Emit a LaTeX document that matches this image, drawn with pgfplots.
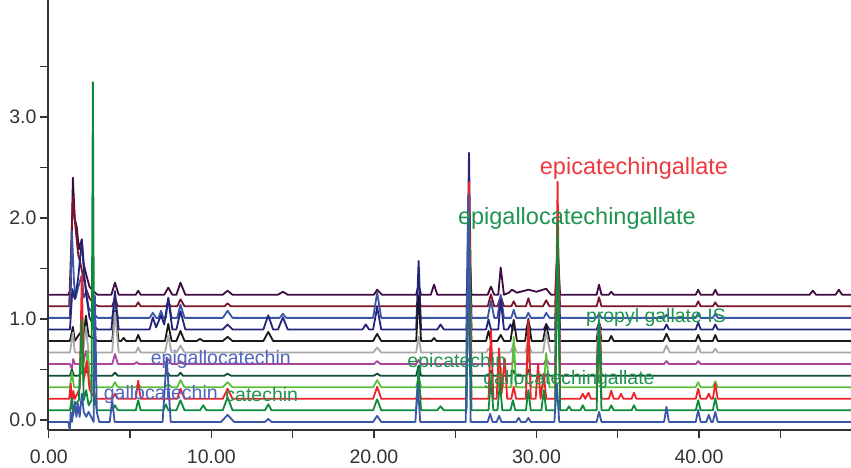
\documentclass[border=0pt]{standalone}
\usepackage{pgfplots}
\pgfplotsset{compat=1.18}
\usepackage{pgfplotstable}
\usepackage{fontspec}
\setmainfont{Liberation Sans}

\definecolor{cpurple}{HTML}{3E0C40}
\definecolor{cmaroon}{HTML}{781428}
\definecolor{cblue}{HTML}{3A56A8}
\definecolor{cnavy}{HTML}{24247A}
\definecolor{cblack}{HTML}{1A1A1A}
\definecolor{cgray}{HTML}{A8A8A8}
\definecolor{cmagenta}{HTML}{B0449C}
\definecolor{cteal}{HTML}{0E4A3E}
\definecolor{clgreen}{HTML}{5CBF3C}
\definecolor{cred}{HTML}{EE2228}
\definecolor{cgreen}{HTML}{0F8A3C}
\definecolor{axisgray}{HTML}{333333}
\definecolor{labred}{HTML}{EE3840}
\definecolor{labgreen}{HTML}{1E9450}
\definecolor{labblue}{HTML}{5064C0}

% heights above each trace's own baseline, time in min
\pgfplotstableread[row sep=\\]{t h\\
0 0\\ 1.2 0\\ 1.35 0.05\\ 1.48 1.16\\ 1.6 0.75\\ 1.72 0.67\\ 1.85 0.45\\ 2.03 0.55\\ 2.15 0.3\\ 2.3 0.2\\ 2.5 0.08\\ 2.7 0.04\\ 3.0 0\\
3.85 0\\ 4.07 0.12\\ 4.3 0\\ 5.35 0\\ 5.5 0.04\\ 5.65 0\\ 7.1 0\\ 7.35 0.07\\ 7.6 0\\ 7.85 0\\ 8.1 0.12\\ 8.4 0\\
10.7 0\\ 11.0 0.04\\ 11.3 0\\ 14.1 0\\ 14.4 0.03\\ 14.7 0\\ 20.0 0\\ 20.2 0.05\\ 20.5 0\\ 22.6 0\\ 22.75 0.1\\ 22.9 0\\
23.5 0\\ 23.7 0.1\\ 23.9 0\\ 25.7 0\\ 25.85 0.4\\ 26.0 0\\ 27.0 0\\ 27.2 0.08\\ 27.4 0\\ 27.65 0\\ 27.8 0.27\\ 28.0 0\\
28.3 0.02\\ 28.5 0.05\\ 28.8 0.02\\ 29.5 0.05\\ 30.0 0.03\\ 30.6 0.06\\ 30.9 0\\ 31.15 0\\ 31.3 0.5\\ 31.45 0\\
33.7 0\\ 33.85 0.1\\ 34.0 0\\ 34.45 0\\ 34.6 0.03\\ 34.75 0\\ 39.8 0\\ 39.95 0.05\\ 40.1 0\\ 40.85 0\\ 41.0 0.05\\ 41.15 0\\
46.8 0\\ 47.0 0.04\\ 47.2 0\\ 48.4 0\\ 48.6 0.05\\ 48.8 0\\ 49.4 0\\
}\tpurple

\pgfplotstableread[row sep=\\]{t h\\
0 0\\ 1.25 0\\ 1.48 1.08\\ 1.6 0.85\\ 1.8 0.52\\ 1.95 0.42\\ 2.1 0.3\\ 2.3 0.17\\ 2.5 0.08\\ 2.8 0.02\\ 3.1 0\\
3.9 0\\ 4.07 0.08\\ 4.25 0\\ 5.35 0\\ 5.5 0.04\\ 5.65 0\\ 7.2 0\\ 7.35 0.04\\ 7.5 0\\ 7.9 0\\ 8.1 0.07\\ 8.35 0\\
10.8 0\\ 11.0 0.03\\ 11.2 0\\ 22.6 0\\ 22.75 0.06\\ 22.9 0\\ 25.7 0\\ 25.85 0.5\\ 26.0 0\\ 27.0 0\\ 27.2 0.12\\ 27.4 0\\
27.6 0\\ 27.8 0.1\\ 28.0 0\\ 28.45 0\\ 28.6 0.05\\ 28.75 0\\ 29.35 0\\ 29.5 0.08\\ 29.65 0\\ 30.4 0\\ 30.6 0.06\\ 30.8 0\\
31.15 0\\ 31.3 0.6\\ 31.45 0\\ 33.7 0\\ 33.85 0.09\\ 34.0 0\\ 39.8 0\\ 39.95 0.05\\ 40.1 0\\ 40.85 0\\ 41.0 0.04\\ 41.15 0\\ 49.4 0\\
}\tmaroon

\pgfplotstableread[row sep=\\]{t h\\
0 0\\ 1.3 0\\ 1.42 0.86\\ 1.55 0.35\\ 1.66 0.2\\ 1.8 0.3\\ 2.03 0.42\\ 2.15 0.2\\ 2.3 0.25\\ 2.45 0.1\\ 2.7 0.05\\ 3.0 0\\
3.9 0\\ 4.07 0.15\\ 4.25 0\\ 6.2 0\\ 6.4 0.05\\ 6.6 0\\ 6.75 0\\ 6.9 0.07\\ 7.05 0\\ 7.2 0\\ 7.35 0.2\\ 7.55 0\\
7.9 0\\ 8.1 0.13\\ 8.35 0\\ 10.7 0\\ 11.0 0.07\\ 11.3 0\\ 14.2 0\\ 14.4 0.04\\ 14.6 0\\ 19.95 0\\ 20.2 0.25\\ 20.45 0\\
22.6 0\\ 22.75 0.1\\ 22.9 0\\ 25.7 0\\ 25.85 1.0\\ 26.0 0\\ 27.0 0\\ 27.2 0.17\\ 27.4 0\\ 27.6 0\\ 27.8 0.23\\ 28.0 0\\
28.45 0\\ 28.6 0.08\\ 28.75 0\\ 29.35 0\\ 29.5 0.05\\ 29.65 0\\ 30.45 0\\ 30.6 0.05\\ 30.8 0\\ 31.15 0\\ 31.3 0.5\\ 31.45 0\\
33.7 0\\ 33.85 0.04\\ 34.0 0\\ 37.85 0\\ 38.0 0.03\\ 38.15 0\\ 39.8 0\\ 39.95 0.05\\ 40.1 0\\ 40.85 0\\ 41.0 0.04\\ 41.15 0\\ 49.4 0\\
}\tblueb

\pgfplotstableread[row sep=\\]{t h\\
0 0\\ 1.3 0\\ 1.45 0.4\\ 1.6 0.3\\ 1.8 0.5\\ 2.03 0.88\\ 2.15 0.6\\ 2.3 0.35\\ 2.5 0.12\\ 2.75 0.04\\ 3.0 0\\
3.85 0\\ 4.07 0.38\\ 4.3 0\\ 6.2 0\\ 6.4 0.12\\ 6.6 0.02\\ 6.9 0.14\\ 7.1 0.05\\ 7.35 0.31\\ 7.6 0\\ 7.85 0\\ 8.1 0.18\\ 8.4 0\\
10.7 0\\ 11.0 0.05\\ 11.3 0\\ 13.2 0\\ 13.5 0.14\\ 13.8 0\\ 14.1 0\\ 14.4 0.12\\ 14.7 0\\ 19.3 0\\ 19.5 0.05\\ 19.7 0\\
19.95 0\\ 20.2 0.22\\ 20.45 0\\ 22.6 0\\ 22.75 0.68\\ 22.9 0\\ 23.9 0\\ 24.1 0.05\\ 24.3 0\\ 25.7 0\\ 25.85 1.75\\ 26.0 0\\
26.9 0\\ 27.05 0.1\\ 27.2 0\\ 27.65 0\\ 27.8 0.3\\ 28.0 0\\ 28.25 0\\ 28.4 0.05\\ 28.55 0\\ 29.35 0\\ 29.5 0.06\\ 29.65 0\\
30.45 0\\ 30.6 0.05\\ 30.8 0\\ 31.15 0\\ 31.3 0.8\\ 31.45 0\\ 33.7 0\\ 33.85 0.06\\ 34.0 0\\ 37.85 0\\ 38.0 0.05\\ 38.15 0\\
39.8 0\\ 39.95 0.07\\ 40.1 0\\ 40.85 0\\ 41.0 0.05\\ 41.15 0\\ 49.4 0\\
}\tnavy

\pgfplotstableread[row sep=\\]{t h\\
0 0\\ 1.3 0\\ 1.48 0.14\\ 1.6 0\\ 1.8 0.05\\ 2.03 0.1\\ 2.15 0.05\\ 2.28 0.25\\ 2.45 0.05\\ 2.7 0.03\\ 3.0 0\\
3.9 0\\ 4.07 0.3\\ 4.3 0\\ 4.45 0\\ 4.6 0.03\\ 4.75 0\\ 5.35 0\\ 5.5 0.06\\ 5.65 0\\ 7.15 0\\ 7.35 0.17\\ 7.55 0\\
7.85 0\\ 8.1 0.1\\ 8.35 0\\ 9.1 0\\ 9.3 0.02\\ 9.5 0\\ 10.7 0\\ 11.0 0.04\\ 11.3 0\\ 13.2 0\\ 13.5 0.09\\ 13.8 0\\
19.95 0\\ 20.2 0.07\\ 20.45 0\\ 22.6 0\\ 22.75 0.45\\ 22.9 0\\ 23.55 0\\ 23.7 0.03\\ 23.85 0\\ 25.7 0\\ 25.85 1.2\\ 26.0 0\\
26.9 0\\ 27.05 0.1\\ 27.2 0\\ 27.6 0\\ 27.8 0.06\\ 28.0 0\\ 28.4 0\\ 28.6 0.21\\ 28.8 0\\ 29.3 0\\ 29.5 0.22\\ 29.7 0\\
30.4 0\\ 30.6 0.17\\ 30.8 0\\ 31.15 0\\ 31.3 0.7\\ 31.45 0\\ 33.7 0\\ 33.85 0.2\\ 34.0 0\\ 34.45 0\\ 34.6 0.05\\ 34.75 0\\
37.8 0\\ 38.0 0.07\\ 38.2 0\\ 39.8 0\\ 39.95 0.06\\ 40.1 0\\ 40.85 0\\ 41.0 0.06\\ 41.15 0\\ 49.4 0\\
}\tblack

\pgfplotstableread[row sep=\\]{t h\\
0 0\\ 1.3 0\\ 1.48 0.2\\ 1.6 0\\ 2.1 0\\ 2.28 0.25\\ 2.45 0\\ 3.9 0\\ 4.07 0.4\\ 4.3 0\\ 5.35 0\\ 5.5 0.05\\ 5.65 0\\
7.15 0\\ 7.35 0.17\\ 7.55 0\\ 7.85 0\\ 8.1 0.07\\ 8.35 0\\ 19.95 0\\ 20.2 0.05\\ 20.45 0\\ 22.6 0\\ 22.75 0.16\\ 22.9 0\\
25.7 0\\ 25.85 1.1\\ 26.0 0\\ 26.9 0\\ 27.05 0.04\\ 27.2 0\\ 28.4 0\\ 28.6 0.08\\ 28.8 0\\ 29.3 0\\ 29.5 0.1\\ 29.7 0\\
30.4 0\\ 30.6 0.2\\ 30.85 0\\ 31.15 0\\ 31.3 0.8\\ 31.45 0\\ 33.7 0\\ 33.85 0.3\\ 34.0 0\\ 37.8 0\\ 38.0 0.07\\ 38.2 0\\
39.8 0\\ 39.95 0.07\\ 40.1 0\\ 40.85 0\\ 41.0 0.04\\ 41.15 0\\ 49.4 0\\
}\tgray

\pgfplotstableread[row sep=\\]{t h\\
0 0\\ 1.3 0\\ 1.42 -0.05\\ 1.5 0.05\\ 1.6 0\\ 2.1 0\\ 2.28 0.13\\ 2.45 0\\ 3.9 0\\ 4.07 0.1\\ 4.25 0\\ 5.25 0\\ 5.4 0.02\\ 5.55 0\\
7.15 0\\ 7.35 0.05\\ 7.55 0\\ 7.9 0\\ 8.1 0.03\\ 8.3 0\\ 20.0 0\\ 20.2 0.03\\ 20.4 0\\ 22.6 0\\ 22.75 0.04\\ 22.9 0\\
25.7 0\\ 25.85 1.0\\ 26.0 0\\ 28.45 0\\ 28.6 0.03\\ 28.75 0\\ 29.35 0\\ 29.5 0.04\\ 29.65 0\\ 30.45 0\\ 30.6 0.05\\ 30.8 0\\
31.15 0\\ 31.3 0.9\\ 31.45 0\\ 33.7 0\\ 33.85 0.4\\ 34.0 0\\ 37.85 0\\ 38.0 0.03\\ 38.15 0\\ 39.8 0\\ 39.95 0.03\\ 40.1 0\\ 49.4 0\\
}\tmagenta

\pgfplotstableread[row sep=\\]{t h\\
0 0\\ 1.3 0\\ 1.42 0.06\\ 1.55 0\\ 1.85 0\\ 2.0 0.04\\ 2.15 0\\ 2.3 0.05\\ 2.5 0\\ 3.9 0\\ 4.07 0.03\\ 4.25 0\\
7.15 0\\ 7.3 0.03\\ 7.45 0\\ 7.95 0\\ 8.1 0.03\\ 8.25 0\\ 10.8 0\\ 11.0 0.02\\ 11.2 0\\ 20.0 0\\ 20.2 0.02\\ 20.4 0\\
22.6 0\\ 22.75 0.1\\ 22.9 0\\ 25.7 0\\ 25.85 0.95\\ 26.0 0\\ 27.05 0\\ 27.2 0.05\\ 27.35 0\\ 28.45 0\\ 28.6 0.05\\ 28.75 0\\
29.35 0\\ 29.5 0.06\\ 29.65 0\\ 31.15 0\\ 31.3 0.95\\ 31.45 0\\ 33.7 0\\ 33.85 0.5\\ 34.0 0\\ 49.4 0\\
}\tteal

\pgfplotstableread[row sep=\\]{t h\\
0 0\\ 1.3 0\\ 1.42 0.15\\ 1.55 0\\ 1.9 0\\ 2.0 0.3\\ 2.15 0.05\\ 2.4 0.36\\ 2.55 0\\ 3.0 0\\ 3.9 0\\ 4.07 0.05\\ 4.25 0\\
5.35 0\\ 5.5 0.03\\ 5.65 0\\ 7.15 0\\ 7.35 0.03\\ 7.55 0\\ 7.9 0\\ 8.1 0.07\\ 8.35 0\\ 10.7 0\\ 11.0 0.05\\ 11.3 0\\
19.95 0\\ 20.2 0.07\\ 20.45 0\\ 22.6 0\\ 22.75 0.1\\ 22.9 0\\ 25.7 0\\ 25.85 1.6\\ 26.0 0\\ 27.05 0\\ 27.2 0.1\\ 27.35 0\\
27.65 0\\ 27.8 0.2\\ 27.95 0\\ 28.45 0\\ 28.6 0.5\\ 28.75 0\\ 29.35 0\\ 29.5 0.6\\ 29.65 0\\ 30.45 0\\ 30.6 0.34\\ 30.8 0\\
31.15 0\\ 31.3 1.3\\ 31.45 0\\ 33.7 0\\ 33.85 0.62\\ 34.0 0\\ 39.8 0\\ 39.95 0.05\\ 40.1 0\\ 40.85 0\\ 41.0 0.06\\ 41.15 0\\ 49.4 0\\
}\tlgreen

\pgfplotstableread[row sep=\\]{t h\\
0 0\\ 1.25 0\\ 1.35 0.15\\ 1.42 -0.1\\ 1.5 0.08\\ 1.6 0\\ 1.9 0.1\\ 2.03 1.22\\ 2.15 0.2\\ 2.35 0.37\\ 2.5 0.1\\ 2.65 0.05\\ 2.9 0\\
3.9 0\\ 4.07 0.05\\ 4.25 0\\ 5.35 0\\ 5.5 0.18\\ 5.65 0\\ 7.9 0\\ 8.1 0.1\\ 8.35 0\\ 10.7 0\\ 11.0 0.1\\ 11.3 0\\
19.95 0\\ 20.2 0.12\\ 20.45 0\\ 22.6 0\\ 22.75 0.12\\ 22.9 0\\ 25.7 0\\ 25.85 2.15\\ 26.0 0\\ 27.05 0\\ 27.2 0.68\\ 27.35 0\\
27.55 0\\ 27.7 0.5\\ 27.85 0.05\\ 28.05 0.4\\ 28.2 0\\ 28.45 0\\ 28.6 0.12\\ 28.75 0\\ 29.35 0\\ 29.5 0.78\\ 29.65 0\\
29.95 0\\ 30.1 0.35\\ 30.25 0\\ 30.45 0.25\\ 30.6 0\\ 31.15 0\\ 31.3 2.15\\ 31.45 0\\ 32.7 0\\ 32.85 0.05\\ 33.0 0\\ 33.2 0.06\\ 33.35 0\\
33.7 0\\ 33.85 0.75\\ 34.0 0\\ 34.45 0\\ 34.6 0.08\\ 34.75 0\\ 35.05 0\\ 35.2 0.05\\ 35.35 0\\ 35.85 0\\ 36.0 0.06\\ 36.15 0\\
39.8 0\\ 39.95 0.1\\ 40.1 0\\ 40.45 0\\ 40.6 0.05\\ 40.75 0\\ 40.85 0\\ 41.0 0.15\\ 41.15 0\\ 49.4 0\\
}\tred

\pgfplotstableread[row sep=\\]{t h\\
0 0\\ 1.3 0\\ 1.42 0.12\\ 1.5 -0.05\\ 1.6 0.05\\ 1.85 0.1\\ 2.03 0.9\\ 2.15 0.1\\ 2.3 0.2\\ 2.45 0.05\\ 2.63 0.1\\ 2.71 3.25\\ 2.79 0.2\\ 2.95 0\\
3.9 0\\ 4.07 0.05\\ 4.25 0\\ 5.35 0\\ 5.5 0.1\\ 5.65 0\\ 7.05 0\\ 7.2 0.06\\ 7.35 0\\ 7.85 0\\ 8.1 0.1\\ 8.35 0\\
9.3 0\\ 9.5 0.05\\ 9.7 0\\ 10.7 0\\ 11.0 0.13\\ 11.3 0\\ 13.3 0\\ 13.5 0.06\\ 13.7 0\\ 19.95 0\\ 20.2 0.11\\ 20.45 0\\
22.6 0\\ 22.75 0.42\\ 22.9 0\\ 23.9 0\\ 24.1 0.04\\ 24.3 0\\ 25.7 0\\ 25.85 1.9\\ 26.0 0\\ 27.05 0\\ 27.2 0.3\\ 27.35 0\\
27.6 0\\ 27.75 0.27\\ 27.9 0\\ 28.4 0\\ 28.55 0.1\\ 28.7 0\\ 29.35 0\\ 29.5 0.2\\ 29.65 0\\ 30.3 0\\ 30.45 0.2\\ 30.6 0\\
31.15 0\\ 31.3 1.88\\ 31.45 0\\ 31.85 0\\ 32.0 0.04\\ 32.15 0\\ 32.7 0\\ 32.85 0.05\\ 33.0 0\\ 33.7 0\\ 33.85 0.88\\ 34.0 0\\
34.45 0\\ 34.6 0.05\\ 34.75 0\\ 35.85 0\\ 36.0 0.05\\ 36.15 0\\ 39.8 0\\ 39.95 0.1\\ 40.1 0\\ 40.85 0\\ 41.0 0.12\\ 41.15 0\\ 49.4 0\\
}\tgreen

\pgfplotstableread[row sep=\\]{t h\\
0 0\\ 1.2 0\\ 1.29 -0.08\\ 1.35 0.1\\ 1.42 0\\ 1.6 0.2\\ 1.7 0.05\\ 1.79 0.18\\ 1.9 0.05\\ 2.03 0.28\\ 2.15 0.1\\ 2.3 0.05\\
2.45 0.1\\ 2.6 0.05\\ 2.76 0\\ 2.84 1.25\\ 2.95 0.1\\ 3.1 0\\ 3.75 0\\ 3.9 0.22\\ 4.05 0\\ 7.0 0\\ 7.25 0.64\\ 7.5 0\\
10.6 0\\ 11.0 0.07\\ 11.4 0\\ 13.3 0\\ 13.5 0.03\\ 13.7 0\\ 19.95 0\\ 20.2 0.06\\ 20.45 0\\ 22.55 0\\ 22.7 0.37\\ 22.85 0\\
25.65 0\\ 25.8 2.25\\ 25.95 0\\ 27.0 0\\ 27.15 0.08\\ 27.3 0\\ 27.55 0\\ 27.7 0.06\\ 27.85 0\\ 28.75 0\\ 28.9 0.04\\ 29.05 0\\
29.35 0\\ 29.5 0.04\\ 29.65 0\\ 31.1 0\\ 31.25 0.38\\ 31.4 0\\ 33.7 0\\ 33.85 0.1\\ 34.0 0\\ 37.85 0\\ 38.0 0.15\\ 38.15 0\\
39.8 0\\ 39.95 0.12\\ 40.1 0\\ 40.45 0\\ 40.6 0.07\\ 40.75 0\\ 40.85 0\\ 41.0 0.1\\ 41.15 0\\ 49.4 0\\
}\tbluea

\newcommand{\lab}{\fontsize{19.5}{22}\selectfont}
\newcommand{\labbig}{\fontsize{23.5}{26}\selectfont}

\begin{document}
\begin{tikzpicture}
\begin{axis}[
  scale only axis, width=803pt, height=430pt,
  xmin=-0.05, xmax=49.35, ymin=-0.1, ymax=4.16,
  axis x line*=bottom, axis y line*=left,
  axis line style={line width=1.4pt, color=axisgray},
  tick align=outside, major tick length=8pt, minor tick length=8pt,
  tick style={line width=1.2pt, color=axisgray},
  xtick={0,10,20,30,40}, xticklabels={0.00,10.00,20.00,30.00,40.00},
  minor xtick={5,15,25,35,45},
  ytick={0,1,2,3}, yticklabels={0.0,1.0,2.0,3.0},
  minor ytick={0.5,1.5,2.5,3.5},
  ticklabel style={font=\lab, text=axisgray},
  xticklabel style={yshift=-8pt},
  every axis plot/.append style={line width=1.8pt, line join=round},
]
\addplot[cpurple] table[x=t, y expr=\thisrow{h}+1.24] {\tpurple};
\addplot[cmaroon] table[x=t, y expr=\thisrow{h}+1.125] {\tmaroon};
\addplot[cblue] table[x=t, y expr=\thisrow{h}+1.011] {\tblueb};
\addplot[cnavy] table[x=t, y expr=\thisrow{h}+0.896] {\tnavy};
\addplot[cblack] table[x=t, y expr=\thisrow{h}+0.782] {\tblack};
\addplot[cgray] table[x=t, y expr=\thisrow{h}+0.667] {\tgray};
\addplot[cmagenta] table[x=t, y expr=\thisrow{h}+0.553] {\tmagenta};
\addplot[cteal] table[x=t, y expr=\thisrow{h}+0.438] {\tteal};
\addplot[clgreen] table[x=t, y expr=\thisrow{h}+0.324] {\tlgreen};
\addplot[cred] table[x=t, y expr=\thisrow{h}+0.209] {\tred};
\addplot[cgreen] table[x=t, y expr=\thisrow{h}+0.095] {\tgreen};
\addplot[cblue] table[x=t, y expr=\thisrow{h}-0.02] {\tbluea};

\node[text=labred, font=\labbig] at (axis cs:36.0,2.495) {epicatechingallate};
\node[text=labgreen, font=\labbig] at (axis cs:32.49,2.0) {epigallocatechingallate};
\node[text=labgreen, font=\lab] at (axis cs:37.35,1.01) {propyl gallate IS};
\node[text=labblue, font=\lab] at (axis cs:10.58,0.594) {epigallocatechin};
\node[text=labgreen, font=\lab] at (axis cs:25.1,0.574) {epicatechin};
\node[text=labgreen, font=\lab] at (axis cs:32.0,0.396) {gallocatechingallate};
\node[text=labblue, font=\lab] at (axis cs:6.89,0.248) {gallocatechin};
\node[text=labgreen, font=\lab] at (axis cs:13.1,0.248) {catechin};
\end{axis}
\pgfresetboundingbox
\path ([xshift=-48pt,yshift=-38pt]current axis.south west) rectangle (current axis.north east);
\end{tikzpicture}
\end{document}
